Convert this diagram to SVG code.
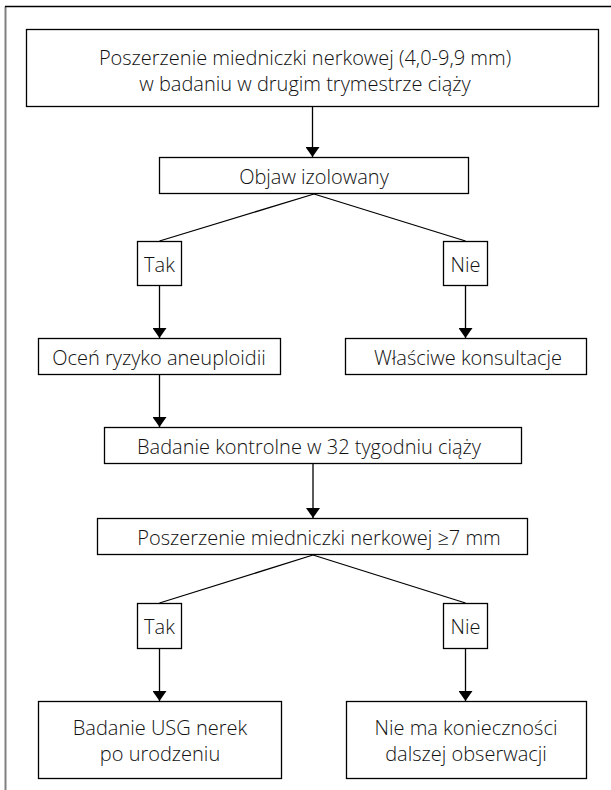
<svg xmlns="http://www.w3.org/2000/svg" width="611" height="790" viewBox="0 0 611 790">
<defs>
<marker id="ah" viewBox="0 0 10 14" refX="10" refY="7" markerWidth="10" markerHeight="14" markerUnits="userSpaceOnUse" orient="auto">
<path d="M0,0 L10,7 L0,14 Z" fill="#000"/>
</marker>
<style>
.box{fill:#fff;stroke:#000;stroke-width:1.3}
.t{font-family:"Open Sans","Noto Sans","Liberation Sans",sans-serif;font-size:20px;font-weight:300;fill:#111;text-anchor:middle}
.c{stroke:#000;stroke-width:1.3;fill:none}
.a{stroke:#000;stroke-width:1.3;fill:none;marker-end:url(#ah)}
</style>
</defs>
<rect width="611" height="790" fill="#fff"/>
<path d="M5.5,790 V6.5" stroke="#808080" stroke-width="2" fill="none"/>
<path d="M5,6.5 H611" stroke="#000" stroke-width="1.5" fill="none"/>
<g id="connectors">
<line class="a" x1="312.5" y1="107" x2="312.5" y2="157"/>
<line class="c" x1="314" y1="194" x2="159.5" y2="241"/>
<line class="c" x1="314" y1="194" x2="465.5" y2="241"/>
<line class="a" x1="159.5" y1="286" x2="159.5" y2="338"/>
<line class="a" x1="465.5" y1="286" x2="465.5" y2="338"/>
<line class="a" x1="159.5" y1="375" x2="159.5" y2="427"/>
<line class="a" x1="313" y1="464" x2="313" y2="518"/>
<line class="c" x1="313" y1="555" x2="159.5" y2="603"/>
<line class="c" x1="313" y1="555" x2="465.5" y2="603"/>
<line class="a" x1="159.5" y1="649" x2="159.5" y2="701"/>
<line class="a" x1="465.5" y1="649" x2="465.5" y2="701"/>
</g>
<g id="n1">
<rect class="box" x="26.5" y="29.5" width="572" height="77"/>
<text class="t" x="305" y="65">Poszerzenie miedniczki nerkowej (4,0-9,9 mm)</text>
<text class="t" x="305" y="91">w badaniu w drugim trymestrze ciąży</text>
</g>
<g id="n2">
<rect class="box" x="159.5" y="157.5" width="309" height="36"/>
<text class="t" x="314" y="184">Objaw izolowany</text>
</g>
<g id="tak1">
<rect class="box" x="137.5" y="241.5" width="44" height="44"/>
<text class="t" x="159.5" y="272">Tak</text>
</g>
<g id="nie1">
<rect class="box" x="443.5" y="241.5" width="44" height="44"/>
<text class="t" x="465.5" y="272">Nie</text>
</g>
<g id="n3">
<rect class="box" x="38.5" y="338.5" width="242" height="36"/>
<text class="t" x="159" y="365">Oceń ryzyko aneuploidii</text>
</g>
<g id="n4">
<rect class="box" x="345.5" y="338.5" width="241" height="36"/>
<text class="t" x="468" y="365">Właściwe konsultacje</text>
</g>
<g id="n5">
<rect class="box" x="104.5" y="427.5" width="417" height="36"/>
<text class="t" x="309" y="454">Badanie kontrolne w 32 tygodniu ciąży</text>
</g>
<g id="n6">
<rect class="box" x="97.5" y="518.5" width="430" height="36"/>
<text class="t" x="319" y="545">Poszerzenie miedniczki nerkowej ≥7 mm</text>
</g>
<g id="tak2">
<rect class="box" x="137.5" y="603.5" width="44" height="45"/>
<text class="t" x="159.5" y="634">Tak</text>
</g>
<g id="nie2">
<rect class="box" x="443.5" y="603.5" width="44" height="45"/>
<text class="t" x="465.5" y="634">Nie</text>
</g>
<g id="n7">
<rect class="box" x="38.5" y="701.5" width="243" height="77"/>
<text class="t" x="160" y="735">Badanie USG nerek</text>
<text class="t" x="160" y="761">po urodzeniu</text>
</g>
<g id="n8">
<rect class="box" x="346.5" y="701.5" width="240" height="77"/>
<text class="t" x="466" y="735">Nie ma konieczności</text>
<text class="t" x="466" y="761">dalszej obserwacji</text>
</g>
</svg>
